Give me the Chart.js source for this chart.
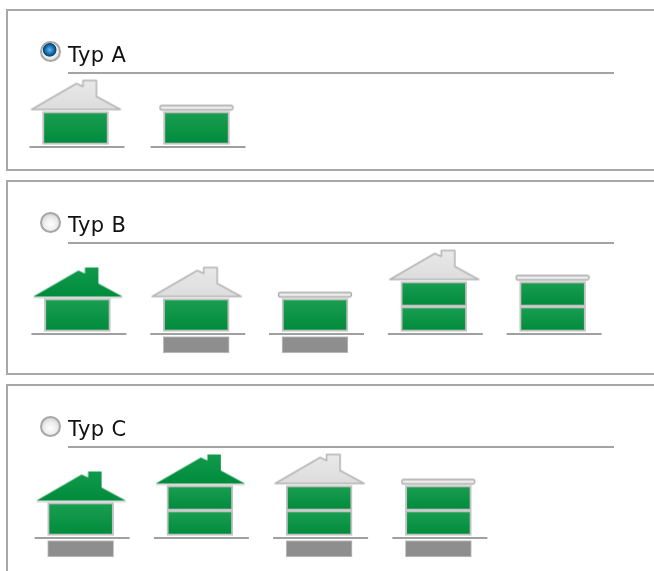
<!DOCTYPE html>
<html>
<head>
<meta charset="utf-8">
<script src="https://cdn.jsdelivr.net/npm/chart.js@4"></script>
<style>
html, body { margin: 0; padding: 0; background: #fff; }
body { width: 654px; height: 571px; position: relative; overflow: hidden; font-family: "DejaVu Sans", sans-serif; }
.panel { position: absolute; left: 6px; width: 660px; border: 2px solid #a8a8a8; box-sizing: border-box; background: #fff; filter: blur(0.3px); }
.rule { position: absolute; left: 68px; width: 546px; height: 2px; background: #a4a4a4; filter: blur(0.3px); }
.title { position: absolute; left: 68px; font-size: 21px; line-height: 24px; letter-spacing: 0.4px; color: #111; filter: blur(0.3px); }
.radio { position: absolute; left: 40px; width: 21px; height: 21px; border-radius: 50%; box-sizing: border-box; border: 2px solid #a6a6a6;
  background: radial-gradient(circle at 50% 60%, #fff 0, #eee 45%, #c4c4c4 100%); filter: blur(0.3px); }
.radio.on { background: radial-gradient(circle at 45% 40%, #6cb8ea 0, #1877b8 28%, #0b3f70 46%, #f0f0f0 52%, #cfcfcf 100%); }
canvas { position: absolute; filter: blur(0.35px); }
</style>
</head>
<body>
<div class="panel" style="top:9px;height:162px"></div>
<div class="panel" style="top:180px;height:195px"></div>
<div class="panel" style="top:384px;height:200px"></div>

<div class="radio on" style="top:41px"></div>
<div class="title" style="top:43px">Typ A</div>
<div class="rule" style="top:72px"></div>
<div class="radio" style="top:212px"></div>
<div class="title" style="top:213px">Typ B</div>
<div class="rule" style="top:242px"></div>
<div class="radio" style="top:416px"></div>
<div class="title" style="top:417px">Typ C</div>
<div class="rule" style="top:446px"></div>

<canvas id="typA" width="242" height="115" style="left:15px;top:57px"></canvas>
<canvas id="typB" width="594" height="115" style="left:18px;top:244px"></canvas>
<canvas id="typC" width="477" height="115" style="left:21px;top:448px"></canvas>

<script>
// storey heights: 1 = one floor of a two storey house
const housesA = ['A1', 'A2'];
const lowerA = [1.32, 1.32];
const upperA = [0, 0];
const cellarA = [0, 0];
const roofA = ['gray', 'flat'];

const housesB = ['B1', 'B2', 'B3', 'B4', 'B5'];
const lowerB = [1.32, 1.32, 1.32, 1, 1];
const upperB = [0, 0, 0, 1, 1];
const cellarB = [0, 0.66, 0.66, 0, 0];
const roofB = ['green', 'gray', 'flat', 'gray', 'flat'];

const housesC = ['C1', 'C2', 'C3', 'C4'];
const lowerC = [1.32, 1, 1, 1];
const upperC = [0, 1, 1, 1];
const cellarC = [0.66, 0, 0.66, 0.66];
const roofC = ['green', 'green', 'gray', 'flat'];

const gap = 0.1; // space between ground line and floor

function sprite(w, h, draw) {
    const c = document.createElement('canvas');
    c.width = w;
    c.height = h;
    const g = c.getContext('2d');
    g.translate(w / 2, h / 2);
    draw(g);
    return c;
}

function gablePath(g) {
    g.beginPath();
    g.moveTo(-44, -2);
    g.lineTo(1, -28);
    g.lineTo(7.5, -25);
    g.lineTo(7.5, -31);
    g.lineTo(21, -31);
    g.lineTo(21, -15);
    g.lineTo(45, -2);
    g.closePath();
}

const roofSprites = {
    gray: sprite(100, 70, g => {
        const fill = g.createLinearGradient(0, -31, 0, 0);
        fill.addColorStop(0, '#e9e9e9');
        fill.addColorStop(1, '#dcdcdc');
        gablePath(g);
        g.fillStyle = fill;
        g.fill();
        g.lineWidth = 1.5;
        g.lineJoin = 'round';
        g.strokeStyle = '#b4b4b4';
        g.stroke();
    }),
    green: sprite(100, 70, g => {
        const fill = g.createLinearGradient(0, -31, 0, 0);
        fill.addColorStop(0, '#119a4c');
        fill.addColorStop(1, '#008b3c');
        gablePath(g);
        g.fillStyle = fill;
        g.fill();
        g.fillStyle = '#b8b8b8';
        g.fillRect(-44, -1.5, 89, 1);
    }),
    flat: sprite(80, 16, g => {
        g.beginPath();
        g.roundRect(-36.5, -6, 73, 4.5, 2);
        g.fillStyle = '#ececec';
        g.fill();
        g.lineWidth = 1.3;
        g.strokeStyle = '#a8a8a8';
        g.stroke();
    })
};

const groundSprite = sprite(104, 6, g => {
    g.fillStyle = '#a0a0a0';
    g.fillRect(-46, -1, 95, 2);
});

function greenFill(ctx) {
    const raw = ctx.raw;
    const y = ctx.chart.scales.y;
    if (!raw || !y) return '#0a9244';
    const top = y.getPixelForValue(raw[1]);
    const bottom = y.getPixelForValue(raw[0]);
    if (!Number.isFinite(top) || !Number.isFinite(bottom)) return '#0a9244';
    const g = ctx.chart.ctx.createLinearGradient(0, top, 0, bottom);
    g.addColorStop(0, '#1b9f52');
    g.addColorStop(1, '#008a3b');
    return g;
}

function drawHouses(id, houses, lower, upper, cellar, roof) {
    const floorBar = {
        type: 'bar',
        barThickness: 66,
        borderWidth: 2,
        borderSkipped: false,
        borderColor: '#c2c2c2',
        backgroundColor: greenFill
    };
    new Chart(document.getElementById(id), {
        data: {
            labels: houses,
            datasets: [
                Object.assign({ data: lower.map(v => [gap, gap + v]) }, floorBar),
                Object.assign({ data: lower.map((v, i) => upper[i] ? [gap + v, gap + v + upper[i]] : null) }, floorBar),
                {
                    type: 'bar',
                    data: cellar.map(v => v ? [-gap - v, -gap] : null),
                    barThickness: 66,
                    borderWidth: 1,
                    borderSkipped: false,
                    borderColor: '#c2c2c2',
                    backgroundColor: '#8e8e8e'
                },
                {
                    type: 'line',
                    data: houses.map(() => 0),
                    showLine: false,
                    pointStyle: groundSprite
                },
                {
                    type: 'line',
                    data: lower.map((v, i) => gap + v + upper[i]),
                    showLine: false,
                    pointStyle: roof.map(r => roofSprites[r])
                }
            ]
        },
        options: {
            responsive: false,
            animation: false,
            layout: { padding: 0, autoPadding: false },
            events: [],
            plugins: { legend: { display: false }, tooltip: { enabled: false } },
            scales: {
                x: { display: false, stacked: true, offset: true },
                y: { display: false, min: -1, max: 3.6 }
            }
        }
    });
}

drawHouses('typA', housesA, lowerA, upperA, cellarA, roofA);
drawHouses('typB', housesB, lowerB, upperB, cellarB, roofB);
drawHouses('typC', housesC, lowerC, upperC, cellarC, roofC);
</script>
</body>
</html>
